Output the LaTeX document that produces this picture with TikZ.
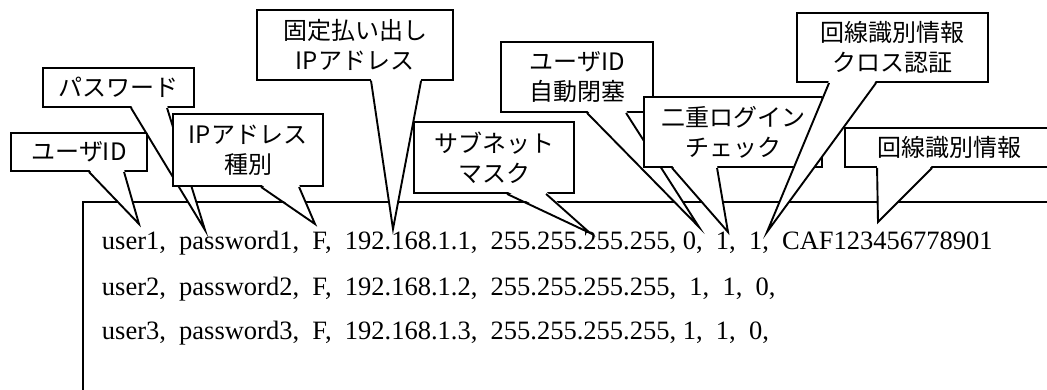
\documentclass[tikz,border=0pt]{standalone}
\usepackage{fontspec}
\setmainfont{Liberation Serif}
\newfontfamily\jpfont{Noto Sans CJK JP}

\begin{document}
\begin{tikzpicture}[x=1pt, y=-1pt, line width=1.9pt,
    box/.style={draw, fill=white, align=center, inner sep=0pt, font=\jpfont\fontsize{24}{30}\selectfont},
    row/.style={anchor=base west, inner sep=0pt, font=\fontsize{26.5}{30}\selectfont}]
    \useasboundingbox (0,0) rectangle (1047,390);
    \clip (0,0) rectangle (1047,390);

    \node[draw, anchor=north west, minimum width=1000, minimum height=220] (frame) at (82,201.5) {};
    \node[row] (row1) at (101,250) {user1,~~password1,~~F,~~192.168.1.1,~~255.255.255.255,~0,~~1,~~1,~~CAF123456778901};
    \node[row] (row2) at (101,295) {user2,~~password2,~~F,~~192.168.1.2,~~255.255.255.255,~~1,~~1,~~0,};
    \node[row] (row3) at (101,339) {user3,~~password3,~~F,~~192.168.1.3,~~255.255.255.255,~1,~~1,~~0,};

    \coordinate (uidT) at (139,224);
    \coordinate (pwT) at (205,230);
    \coordinate (typeT) at (315,224);
    \coordinate (fixT) at (393,229);
    \coordinate (maskT) at (590,233);
    \coordinate (lockT) at (699,227);
    \coordinate (dualT) at (728,232);
    \coordinate (crossT) at (767,232);
    \coordinate (circT) at (878,222);

    % 吹き出しを描く
    \node[box, minimum width=136, minimum height=38] (uid) at (79,152) {ユーザID};
    \fill[white] ([shift={(79pt,2.5pt)}]uid.south west) -- (uidT) -- ([shift={(114pt,2.5pt)}]uid.south west) -- cycle;
    \draw ([xshift=79pt]uid.south west) -- (uidT) -- ([xshift=114pt]uid.south west);

    \node[box, minimum width=151, minimum height=39] (pw) at (118.5,87.5) {パスワード};
    \fill[white] ([shift={(89pt,2.5pt)}]pw.south west) -- (pwT) -- ([shift={(125pt,2.5pt)}]pw.south west) -- cycle;
    \draw ([xshift=89pt]pw.south west) -- (pwT) -- ([xshift=125pt]pw.south west);

    \node[box, minimum width=150, minimum height=72] (type) at (248,150) {IPアドレス\\種別};
    \fill[white] ([shift={(89pt,2.5pt)}]type.south west) -- (typeT) -- ([shift={(127pt,2.5pt)}]type.south west) -- cycle;
    \draw ([xshift=89pt]type.south west) -- (typeT) -- ([xshift=127pt]type.south west);

    \node[box, minimum width=196, minimum height=70] (fix) at (355,45) {固定払い出し\\IPアドレス};
    \fill[white] ([shift={(115pt,2.5pt)}]fix.south west) -- (fixT) -- ([shift={(165pt,2.5pt)}]fix.south west) -- cycle;
    \draw ([xshift=115pt]fix.south west) -- (fixT) -- ([xshift=165pt]fix.south west);

    \node[box, minimum width=160, minimum height=71] (mask) at (494,157.5) {サブネット\\マスク};
    \fill[white] ([shift={(94pt,2.5pt)}]mask.south west) -- (maskT) -- ([shift={(133pt,2.5pt)}]mask.south west) -- cycle;
    \draw ([xshift=94pt]mask.south west) -- (maskT) -- ([xshift=133pt]mask.south west);

    \node[box, minimum width=152, minimum height=70] (lock) at (577,77) {ユーザID\\自動閉塞};
    \fill[white] ([shift={(87pt,2.5pt)}]lock.south west) -- (lockT) -- ([shift={(126pt,2.5pt)}]lock.south west) -- cycle;
    \draw ([xshift=87pt]lock.south west) -- (lockT) -- ([xshift=126pt]lock.south west);

    \node[box, minimum width=178, minimum height=70] (dual) at (733,132) {二重ログイン\\チェック};
    \fill[white] ([shift={(29pt,2.5pt)}]dual.south west) -- (dualT) -- ([shift={(74pt,2.5pt)}]dual.south west) -- cycle;
    \draw ([xshift=29pt]dual.south west) -- (dualT) -- ([xshift=74pt]dual.south west);

    \node[box, minimum width=191, minimum height=69] (cross) at (892.5,47.5) {回線識別情報\\クロス認証};
    \fill[white] ([shift={(33pt,2.5pt)}]cross.south west) -- (crossT) -- ([shift={(80pt,2.5pt)}]cross.south west) -- cycle;
    \draw ([xshift=33pt]cross.south west) -- (crossT) -- ([xshift=80pt]cross.south west);

    \node[box, minimum width=208, minimum height=39] (circ) at (949,147.5) {回線識別情報};
    \fill[white] ([shift={(33pt,2.5pt)}]circ.south west) -- (circT) -- ([shift={(88pt,2.5pt)}]circ.south west) -- cycle;
    \draw ([xshift=33pt]circ.south west) -- (circT) -- ([xshift=88pt]circ.south west);
\end{tikzpicture}
\end{document}
